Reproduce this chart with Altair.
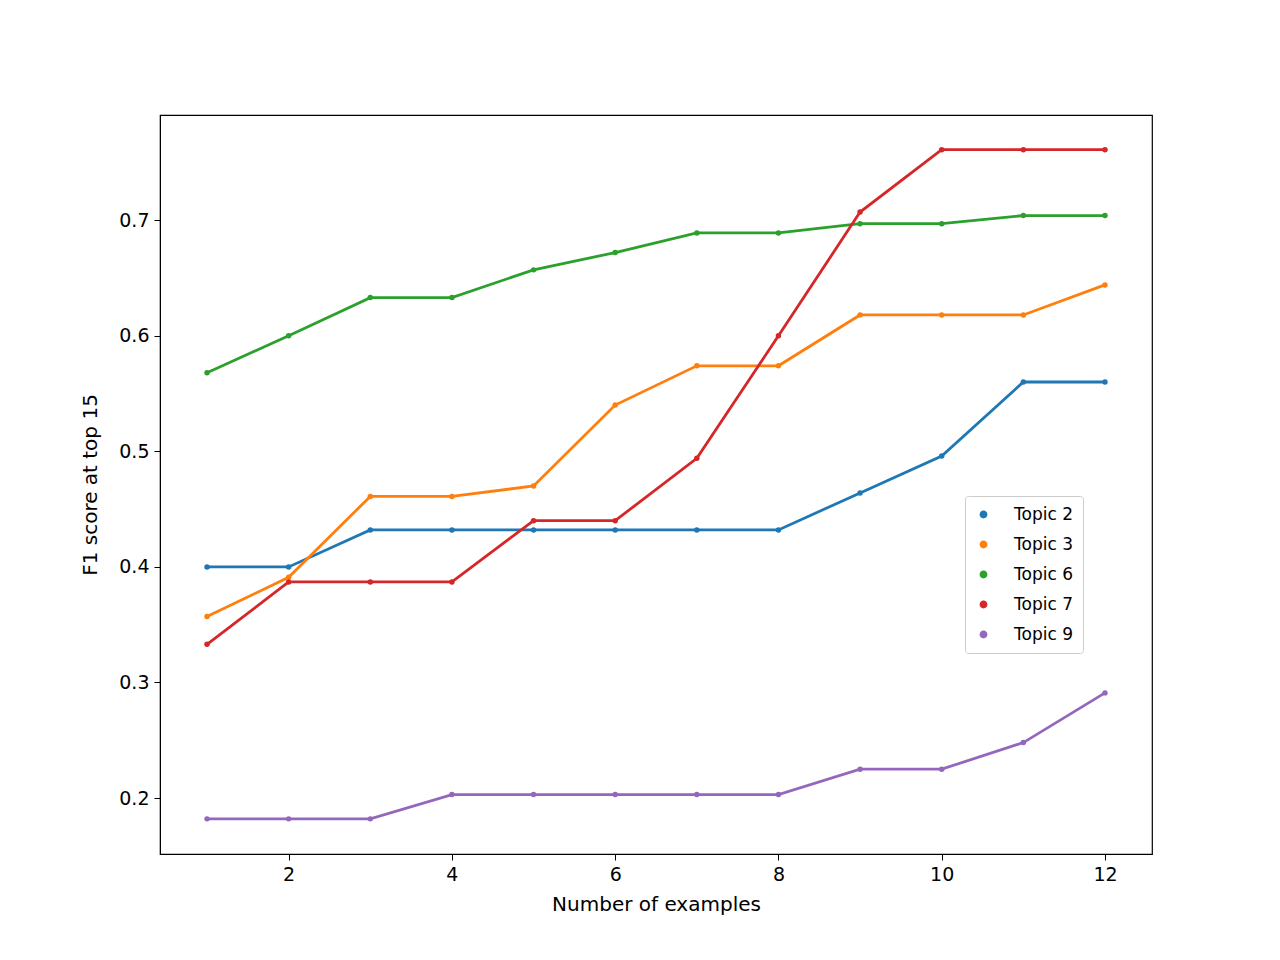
import pandas as pd
import altair as alt

examples = list(range(1, 13))
topic2 = [0.400, 0.400, 0.432, 0.432, 0.432, 0.432, 0.432, 0.432, 0.464, 0.496, 0.560, 0.560]
topic3 = [0.357, 0.391, 0.461, 0.461, 0.470, 0.540, 0.574, 0.574, 0.618, 0.618, 0.618, 0.644]
topic6 = [0.568, 0.600, 0.633, 0.633, 0.657, 0.672, 0.689, 0.689, 0.697, 0.697, 0.704, 0.704]
topic7 = [0.333, 0.387, 0.387, 0.387, 0.440, 0.440, 0.494, 0.600, 0.707, 0.761, 0.761, 0.761]
topic9 = [0.182, 0.182, 0.182, 0.203, 0.203, 0.203, 0.203, 0.203, 0.225, 0.225, 0.248, 0.291]

series = {"Topic 2": topic2, "Topic 3": topic3, "Topic 6": topic6,
          "Topic 7": topic7, "Topic 9": topic9}
rows = [{"x": x, "y": v, "topic": name}
        for name, vals in series.items() for x, v in zip(examples, vals)]
df = pd.DataFrame(rows)

names = list(series.keys())
colors = ["#1f77b4", "#ff7f0e", "#2ca02c", "#d62728", "#9467bd"]

xs = alt.Scale(domain=[0.424, 12.576], nice=False, zero=False)
ys = alt.Scale(domain=[0.1516, 0.791], nice=False, zero=False)
axis_common = dict(grid=False, domainColor="black", tickColor="black", labelColor="black",
                   titleColor="black", labelFontSize=19, titleFontSize=20,
                   labelFont="DejaVu Sans", titleFont="DejaVu Sans", titleFontWeight="normal",
                   tickSize=6, labelPadding=5)

base = alt.Chart(df).encode(
    x=alt.X("x:Q", scale=xs, title="Number of examples",
            axis=alt.Axis(values=[2, 4, 6, 8, 10, 12], titlePadding=10, **axis_common)),
    y=alt.Y("y:Q", scale=ys, title="F1 score at top 15",
            axis=alt.Axis(values=[0.2, 0.3, 0.4, 0.5, 0.6, 0.7], format=".1f",
                          titlePadding=18, **axis_common)),
    color=alt.Color("topic:N", scale=alt.Scale(domain=names, range=colors),
                    legend=alt.Legend(title=None, orient="none", legendX=805, legendY=381,
                                      symbolType="circle", symbolSize=40,
                                      labelFontSize=17, labelFont="DejaVu Sans",
                                      labelOffset=22,
                                      strokeColor="#cccccc", fillColor="white",
                                      padding=10, cornerRadius=3, rowPadding=12)),
)

lines = base.mark_line(strokeWidth=2.8)
points = base.mark_circle(size=30, opacity=1)

chart = (lines + points).properties(
    width=992, height=739, autosize="none",
    padding={"left": 152, "top": 107, "right": 120, "bottom": 98},
).configure_view(stroke="black", strokeWidth=1.2)

chart.save("out.html", embed_options={"renderer": "svg", "actions": False})
